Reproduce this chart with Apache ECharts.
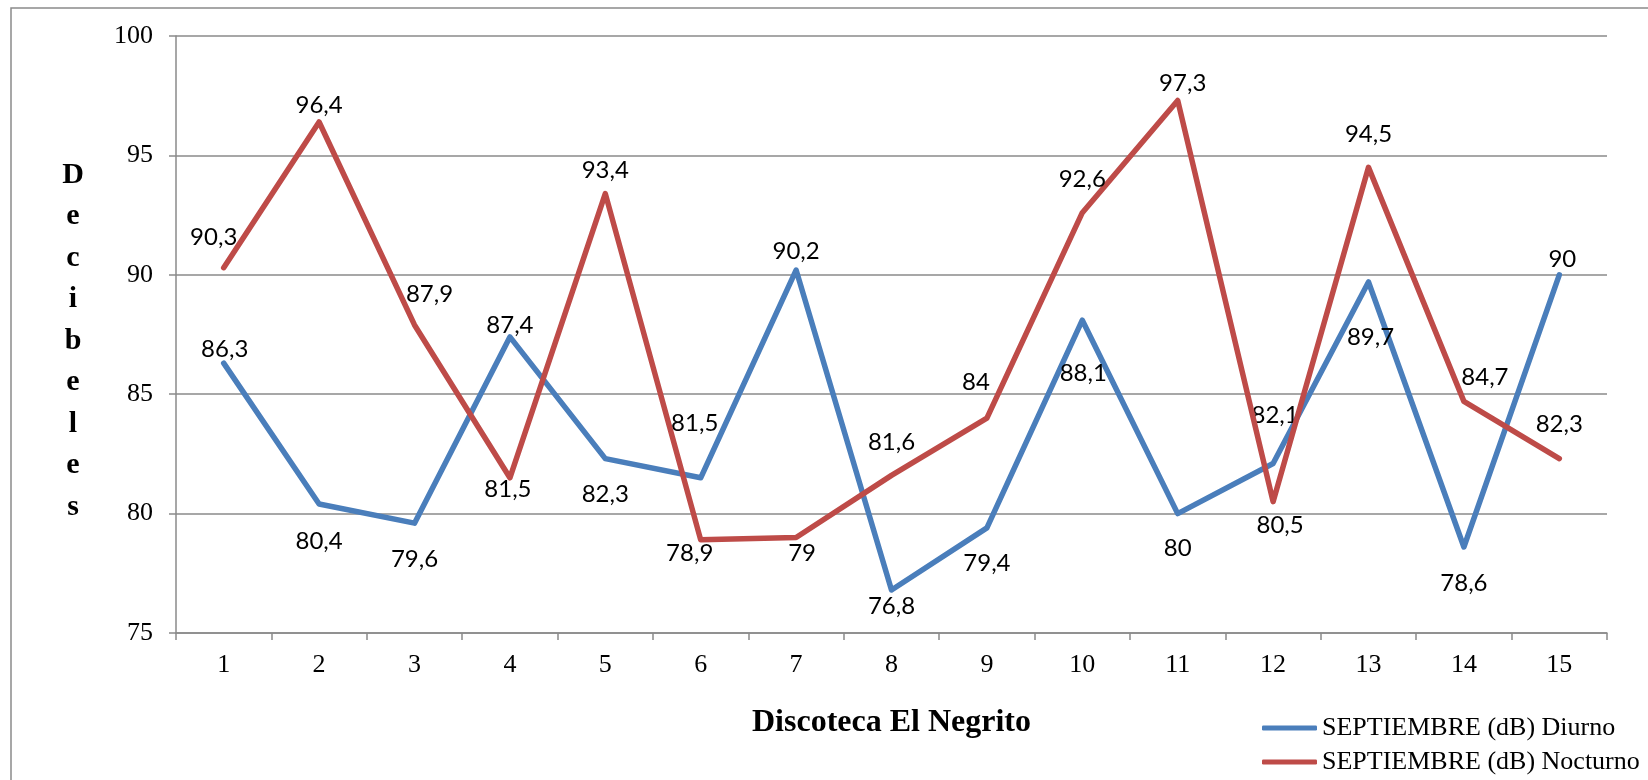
<!DOCTYPE html>
<html>
<head>
<meta charset="utf-8">
<script src="https://cdn.jsdelivr.net/npm/echarts@6/dist/echarts.min.js"></script>
<style>
html,body{margin:0;padding:0;background:#fff;}
#chart{width:1648px;height:780px;}
</style>
</head>
<body>
<div id="chart"></div>
<script>
const categories = ['1','2','3','4','5','6','7','8','9','10','11','12','13','14','15'];
const diurno = [86.3, 80.4, 79.6, 87.4, 82.3, 81.5, 90.2, 76.8, 79.4, 88.1, 80, 82.1, 89.7, 78.6, 90];
const nocturno = [90.3, 96.4, 87.9, 81.5, 93.4, 78.9, 79, 81.6, 84, 92.6, 97.3, 80.5, 94.5, 84.7, 82.3];
const seriesNames = ['SEPTIEMBRE (dB) Diurno', 'SEPTIEMBRE (dB) Nocturno'];
const yMin = 75, yMax = 100, yStep = 5;
const xTitle = 'Discoteca El Negrito';
const yTitle = 'Decibeles';

// label placement (layout only, pixel offsets from each point)
const diurnoLabelOffsets = [[1,-14],[0,37],[0,36],[0,-12],[0,36],[-6,-55],[0,-19],[0,16],[0,35],[1,53],[0,35],[2,-48],[2,55],[0,36],[3,-16]];
const nocturnoLabelOffsets = [[-10,-30],[0,-17],[15,-31],[-2,11],[0,-23],[-11,13],[6,16],[0,-33],[-11,-36],[0,-33],[5,-17],[7,24],[0,-33],[21,-24],[0,-34]];

const serif = '"Liberation Serif", "Times New Roman", serif';
const sans = 'Lato, "Noto Sans", sans-serif';
const gray = '#8a8a8a';

function buildData(values, offsets) {
  return values.map((v, i) => ({ value: v, label: { offset: offsets[i] } }));
}
function fmt(p) { return String(p.value).replace('.', ','); }

const chart = echarts.init(document.getElementById('chart'));
chart.setOption({
  animation: false,
  backgroundColor: '#fff',
  grid: { left: 176, top: 36, right: 41, bottom: 147 },
  xAxis: {
    type: 'category',
    data: categories,
    boundaryGap: true,
    name: xTitle,
    nameLocation: 'middle',
    nameGap: 90,
    nameTextStyle: { fontFamily: serif, fontWeight: 'bold', fontSize: 32, color: '#000', verticalAlign: 'middle' },
    axisLine: { lineStyle: { color: gray, width: 1.5 } },
    axisTick: { show: true, interval: 0, length: 7, lineStyle: { color: gray, width: 1.5 } },
    axisLabel: { interval: 0, margin: 19, fontFamily: serif, fontSize: 26, color: '#000' }
  },
  yAxis: {
    type: 'value',
    min: yMin, max: yMax, interval: yStep,
    axisLine: { show: true, lineStyle: { color: gray, width: 1.5 } },
    axisTick: { show: true, length: 7, lineStyle: { color: gray, width: 1.5 } },
    axisLabel: { margin: 23, fontFamily: serif, fontSize: 26, color: '#000' },
    splitLine: { show: true, lineStyle: { color: gray, width: 1.5 } }
  },
  legend: {
    orient: 'vertical',
    left: 1257,
    top: 710,
    itemWidth: 55,
    itemHeight: 5,
    itemGap: 8,
    icon: 'roundRect',
    textStyle: { fontFamily: serif, fontSize: 26, color: '#000', lineHeight: 26, padding: [0,0,0,0] },
    data: seriesNames
  },
  graphic: [
    {
      type: 'rect', z: -10, silent: true,
      shape: { x: 11, y: 8, width: 1700, height: 800 },
      style: { fill: 'none', stroke: gray, lineWidth: 1.5 }
    },
    {
      type: 'text', silent: true,
      x: 73, y: 341,
      style: {
        text: yTitle.split('').join('\n'),
        font: 'bold 30px ' + serif,
        fill: '#000',
        lineHeight: 41.5,
        align: 'center',
        verticalAlign: 'middle'
      }
    }
  ],
  series: [
    {
      name: seriesNames[0], type: 'line',
      data: buildData(diurno, diurnoLabelOffsets),
      symbol: 'circle', symbolSize: 1, showSymbol: true,
      itemStyle: { color: '#4A7EBB' },
      lineStyle: { color: '#4A7EBB', width: 5.5, cap: 'round', join: 'round' },
      label: { show: true, position: 'inside', formatter: fmt, fontFamily: sans, fontSize: 24, color: '#000', align: 'center', verticalAlign: 'middle' },
      emphasis: { disabled: true },
      z: 2
    },
    {
      name: seriesNames[1], type: 'line',
      data: buildData(nocturno, nocturnoLabelOffsets),
      symbol: 'circle', symbolSize: 1, showSymbol: true,
      itemStyle: { color: '#BE4B48' },
      lineStyle: { color: '#BE4B48', width: 5.5, cap: 'round', join: 'round' },
      label: { show: true, position: 'inside', formatter: fmt, fontFamily: sans, fontSize: 24, color: '#000', align: 'center', verticalAlign: 'middle' },
      emphasis: { disabled: true },
      z: 3
    }
  ]
});
</script>
</body>
</html>
